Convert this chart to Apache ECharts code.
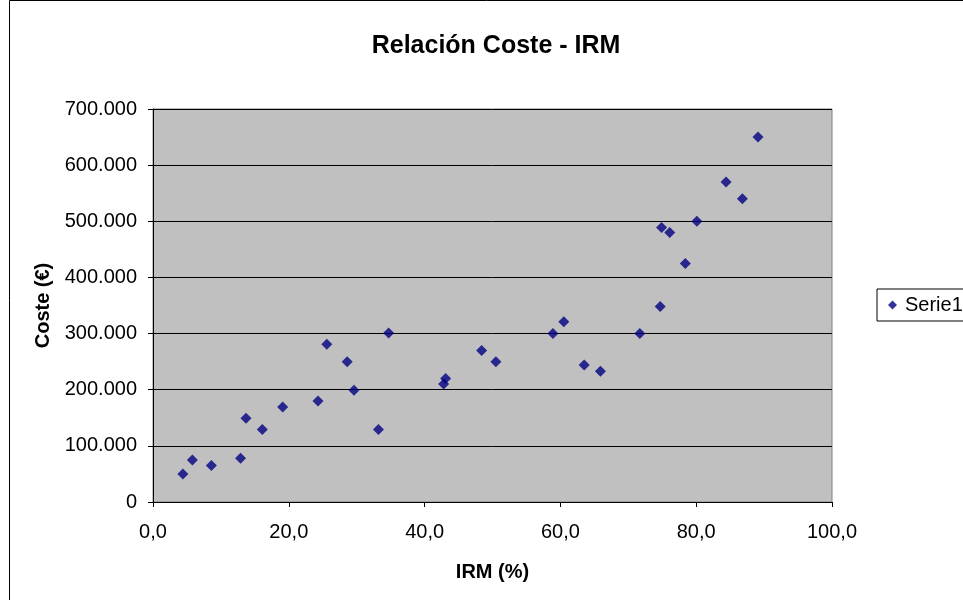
<!DOCTYPE html>
<html><head><meta charset="utf-8">
<script src="https://cdn.jsdelivr.net/npm/echarts@6/dist/echarts.min.js"></script>
<style>html,body{margin:0;padding:0;background:#fff}#c{width:963px;height:600px}</style>
</head><body><div id="c"></div>
<script>
const irm = [4.4, 5.8, 8.6, 12.9, 13.7, 16.1, 19.1, 24.3, 25.6, 28.6, 29.6, 33.2, 34.7, 42.8, 43.1, 48.4, 50.5, 58.9, 60.5, 63.5, 65.9, 71.7, 74.7, 74.9, 76.1, 78.4, 80.1, 84.4, 86.8, 89.1];
const coste = [50000, 75000, 65000, 78000, 149000, 129000, 169000, 180000, 281000, 250000, 199000, 129000, 301000, 210000, 220000, 270000, 250000, 300000, 321000, 244000, 233000, 300000, 348000, 489000, 480000, 425000, 500000, 570000, 540000, 650000];
const seriesName = 'Serie1';
const titleText = 'Relación Coste - IRM';
const xName = 'IRM (%)';
const yName = 'Coste (€)';

const chart = echarts.init(document.getElementById('c'));
const font = 'Liberation Sans, Arial, sans-serif';
chart.setOption({
  animation: false,
  backgroundColor: '#fff',
  textStyle: {fontFamily: font},
  title: {text: titleText, left: 491, top: 29, textAlign: 'center',
    textStyle: {fontSize: 25, fontWeight: 'bold', color: '#000', fontFamily: font}},
  graphic: [{type: 'rect', shape: {x: 9.5, y: 0.5, width: 1000, height: 700},
    style: {fill: 'none', stroke: '#000', lineWidth: 1}, silent: true}],
  legend: {left: 877, top: 289, orient: 'vertical', borderColor: '#000', borderWidth: 1,
    padding: [6, 10, 6, 11], itemWidth: 9, itemHeight: 9, itemGap: 4,
    textStyle: {fontSize: 20, color: '#000', fontFamily: font, padding: [0, 0, 0, 3]},
    data: [{name: seriesName, icon: 'diamond'}]},
  grid: {left: 153, right: 131, top: 109, bottom: 98, show: true,
    backgroundColor: '#c0c0c0', borderColor: '#808080', borderWidth: 1},
  xAxis: {type: 'value', min: 0, max: 100, interval: 20,
    name: xName, nameLocation: 'middle', nameGap: 60,
    nameTextStyle: {fontSize: 20, fontWeight: 'bold', color: '#000', fontFamily: font},
    axisLine: {show: true, onZero: false, lineStyle: {color: '#000'}},
    axisTick: {show: true, length: 5, inside: false, lineStyle: {color: '#000'}},
    axisLabel: {fontSize: 20, color: '#000', margin: 20, fontFamily: font,
      formatter: v => v.toFixed(1).replace('.', ',')},
    splitLine: {show: false}},
  yAxis: {type: 'value', min: 0, max: 700000, interval: 100000,
    name: yName, nameLocation: 'middle', nameGap: 98, nameRotate: 90,
    nameTextStyle: {fontSize: 20, fontWeight: 'bold', color: '#000', fontFamily: font},
    axisLine: {show: true, lineStyle: {color: '#000'}},
    axisTick: {show: true, length: 5, lineStyle: {color: '#000'}},
    axisLabel: {fontSize: 20, color: '#000', margin: 16, fontFamily: font,
      formatter: v => v === 0 ? '0' : String(v).replace(/\B(?=(\d{3})+(?!\d))/g, '.')},
    splitLine: {show: true, lineStyle: {color: '#000', width: 1}}},
  series: [{name: seriesName, type: 'scatter', symbol: 'diamond', symbolSize: 11,
    itemStyle: {color: '#000080'},
    data: irm.map((x, i) => [x, coste[i]])}]
});
</script></body></html>
